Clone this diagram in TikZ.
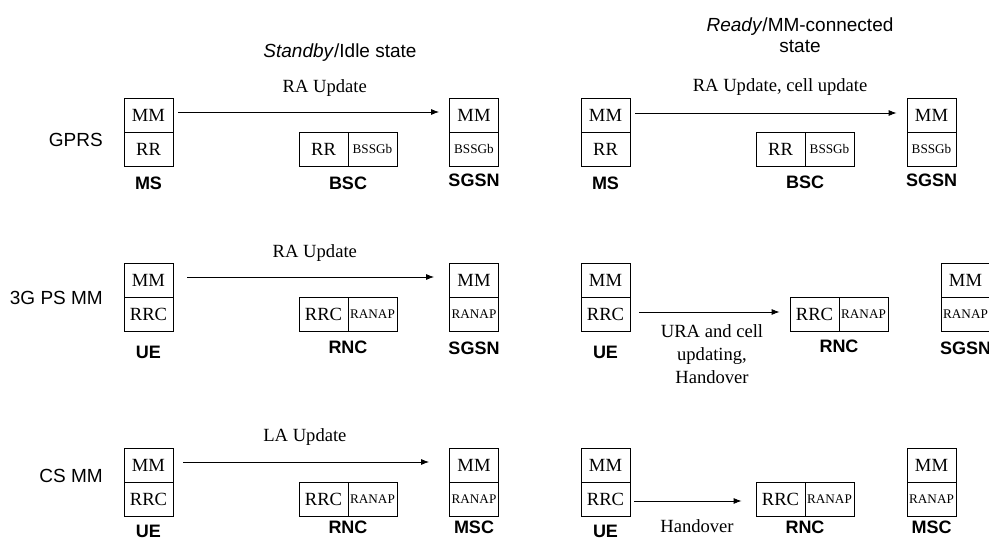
\documentclass[tikz,border=0pt]{standalone}
\usepackage{fontspec}
\setmainfont{Liberation Serif}
\setsansfont{Liberation Sans}
\usetikzlibrary{arrows.meta}

\begin{document}
\begin{tikzpicture}[x=1pt,y=-1pt]

			\tikzstyle{cell}=[draw=black,line width=0.8pt,
				minimum width=49pt,minimum height=34pt,inner sep=0pt,
				node distance=34pt,
				font=\fontsize{18.6}{22}\selectfont]
			\tikzstyle{smallcell}=[cell,
				font=\fontsize{13.2}{15}\selectfont]
			\tikzstyle{entity}=[inner sep=0pt,node distance=34pt,
				font=\sffamily\bfseries\fontsize{18}{20}\selectfont]
			\tikzstyle{rowlabel}=[anchor=east,inner sep=0pt,
				font=\sffamily\fontsize{19}{22}\selectfont]
			\tikzstyle{heading}=[align=center,inner sep=0pt,
				font=\sffamily\fontsize{19}{20.5}\selectfont]
			\tikzstyle{msg}=[-{Latex[length=8pt,width=6pt]},line width=0.8pt]
			\tikzstyle{msglabel}=[inner sep=0pt,align=center,
				font=\fontsize{18.6}{23}\selectfont]

			\useasboundingbox (0,0) rectangle (989,543);

			\node[heading]	(idle)	at (340,53)	{\textit{Standby}/Idle state};
			\node[heading]	(ready)	at (800,35)	{\textit{Ready}/MM-connected\\state};

			\node[rowlabel]	(gprs)	at (103,140)	{GPRS};
			\node[rowlabel]	(psmm)	at (103,298)	{3G PS MM};
			\node[rowlabel]	(csmm)	at (103,476)	{CS MM};

			% GPRS, standby
			\node[cell]	(ms1mm)	at (148.5,115)	{MM};
			\node[cell,below of=ms1mm]	(ms1rr)	{RR};
			\node[cell]	(bsc1rr)	at (323.5,149)	{RR};
			\node[smallcell,right of=bsc1rr,node distance=49pt]	(bsc1gb)	{BSSGb};
			\node[cell]	(sgsn1mm)	at (474,115)	{MM};
			\node[smallcell,below of=sgsn1mm]	(sgsn1gb)	{BSSGb};
			\node[entity,below of=ms1rr]	(ms1)	{MS};
			\node[entity]	(bsc1)	at (348,183)	{BSC};
			\node[entity,below of=sgsn1gb,node distance=31pt]	(sgsn1)	{SGSN};

			% GPRS, ready
			\node[cell]	(ms2mm)	at (605.5,115)	{MM};
			\node[cell,below of=ms2mm]	(ms2rr)	{RR};
			\node[cell]	(bsc2rr)	at (780.5,149)	{RR};
			\node[smallcell,right of=bsc2rr,node distance=49pt]	(bsc2gb)	{BSSGb};
			\node[cell]	(sgsn2mm)	at (931.5,115)	{MM};
			\node[smallcell,below of=sgsn2mm]	(sgsn2gb)	{BSSGb};
			\node[entity,below of=ms2rr]	(ms2)	{MS};
			\node[entity]	(bsc2)	at (805,182)	{BSC};
			\node[entity,below of=sgsn2gb,node distance=31pt]	(sgsn2)	{SGSN};

			% 3G PS MM, idle
			\node[cell]	(ue1mm)	at (148.5,280)	{MM};
			\node[cell,below of=ue1mm]	(ue1rrc)	{RRC};
			\node[cell]	(rnc1rrc)	at (323.5,314)	{RRC};
			\node[smallcell,right of=rnc1rrc,node distance=49pt]	(rnc1ranap)	{RANAP};
			\node[cell]	(sgsn3mm)	at (474,280)	{MM};
			\node[smallcell,below of=sgsn3mm]	(sgsn3ranap)	{RANAP};
			\node[entity,below of=ue1rrc,node distance=38pt]	(ue1)	{UE};
			\node[entity]	(rnc1)	at (348,347)	{RNC};
			\node[entity,below of=sgsn3ranap]	(sgsn3)	{SGSN};

			% 3G PS MM, connected
			\node[cell]	(ue2mm)	at (605.5,280)	{MM};
			\node[cell,below of=ue2mm]	(ue2rrc)	{RRC};
			\node[cell]	(rnc2rrc)	at (814.5,314)	{RRC};
			\node[smallcell,right of=rnc2rrc,node distance=49pt]	(rnc2ranap)	{RANAP};
			\node[cell]	(sgsn4mm)	at (965.5,280)	{MM};
			\node[smallcell,below of=sgsn4mm]	(sgsn4ranap)	{RANAP};
			\node[entity,below of=ue2rrc,node distance=38pt]	(ue2)	{UE};
			\node[entity]	(rnc2)	at (839,346)	{RNC};
			\node[entity,below of=sgsn4ranap]	(sgsn4)	{SGSN};

			% CS MM, idle
			\node[cell]	(ue3mm)	at (148.5,465)	{MM};
			\node[cell,below of=ue3mm]	(ue3rrc)	{RRC};
			\node[cell]	(rnc3rrc)	at (323.5,499)	{RRC};
			\node[smallcell,right of=rnc3rrc,node distance=49pt]	(rnc3ranap)	{RANAP};
			\node[cell]	(msc1mm)	at (474,465)	{MM};
			\node[smallcell,below of=msc1mm]	(msc1ranap)	{RANAP};
			\node[entity,below of=ue3rrc,node distance=32pt]	(ue3)	{UE};
			\node[entity]	(rnc3)	at (348,527)	{RNC};
			\node[entity,below of=msc1ranap,node distance=28pt]	(msc1)	{MSC};

			% CS MM, connected
			\node[cell]	(ue4mm)	at (605.5,465)	{MM};
			\node[cell,below of=ue4mm]	(ue4rrc)	{RRC};
			\node[cell]	(rnc4rrc)	at (780.5,499)	{RRC};
			\node[smallcell,right of=rnc4rrc,node distance=49pt]	(rnc4ranap)	{RANAP};
			\node[cell]	(msc2mm)	at (931.5,465)	{MM};
			\node[smallcell,below of=msc2mm]	(msc2ranap)	{RANAP};
			\node[entity,below of=ue4rrc,node distance=32pt]	(ue4)	{UE};
			\node[entity]	(rnc4)	at (805,527)	{RNC};
			\node[entity,below of=msc2ranap,node distance=28pt]	(msc2)	{MSC};

			\draw[msg,shorten <=5pt,shorten >=10pt]
				([yshift=3pt]ms1mm.east) -- ([yshift=3pt]sgsn1mm.west)
				node[msglabel,pos=.549,yshift=24pt]{RA Update};
			\draw[msg,shorten <=5pt,shorten >=10pt]
				([yshift=2pt]ms2mm.east) -- ([yshift=2pt]sgsn2mm.west)
				node[msglabel,pos=.542,yshift=26pt]{RA Update, cell update};
			\draw[msg,shorten <=14pt,shorten >=15pt]
				([yshift=3pt]ue1mm.east) -- ([yshift=3pt]sgsn3mm.west)
				node[msglabel,pos=.513,yshift=24pt]{RA Update};
			\draw[msg,shorten <=9pt,shorten >=10pt]
				([yshift=2pt]ue2rrc.east) -- ([yshift=2pt]rnc2rrc.west)
				node[msglabel,pos=.5125,anchor=north,yshift=-12pt]{URA and cell\\updating,\\Handover};
			\draw[msg,shorten <=10pt,shorten >=20pt]
				([yshift=3pt]ue3mm.east) -- ([yshift=3pt]msc1mm.west)
				node[msglabel,pos=.477,yshift=25pt]{LA Update};
			\draw[msg,shorten <=4pt,shorten >=14pt]
				([yshift=-2pt]ue4rrc.east) -- ([yshift=-2pt]rnc4rrc.west)
				node[msglabel,pos=.532,yshift=-25pt]{Handover};

		\end{tikzpicture}
\end{document}
